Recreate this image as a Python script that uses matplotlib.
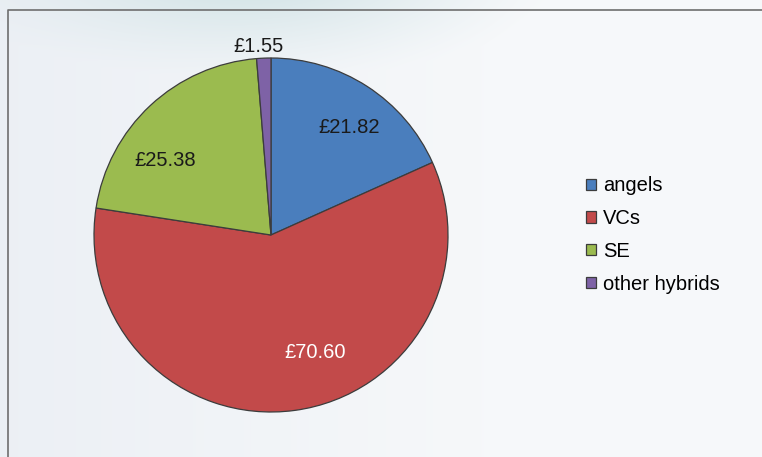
import numpy as np
import matplotlib
matplotlib.use("Agg")
import matplotlib.pyplot as plt
from matplotlib.lines import Line2D

# data (GBP)
names = ["angels", "VCs", "SE", "other hybrids"]
values = [21.82, 70.60, 25.38, 1.55]
labels = ["£21.82", "£70.60", "£25.38", "£1.55"]
colors = ["#4a7ebd", "#c24a4a", "#9bbb4f", "#7e62a6"]
label_colors = ["#1a1a1a", "white", "#1a1a1a", "#1a1a1a"]

plt.rcParams['font.family'] = ['Liberation Sans', 'DejaVu Sans']

W, H = 762, 457
fig = plt.figure(figsize=(W / 100, H / 100), dpi=100)

# soft background: pale blue-grey with a teal glow at top left
yy, xx = np.mgrid[0:H, 0:W]
base = np.array([0.968, 0.975, 0.982])
left = np.array([0.925, 0.940, 0.960])
teal = np.array([0.80, 0.88, 0.89])
t_left = np.clip(1 - xx / 520.0, 0, 1)[..., None]
d = np.sqrt(((xx - 250) / 320.0) ** 2 + ((yy + 30) / 110.0) ** 2)
t_teal = np.clip(1 - d, 0, 1)[..., None] ** 1.3
img = base * (1 - t_left) + left * t_left
img = img * (1 - t_teal) + teal * t_teal
fig.figimage((img * 255).astype(np.uint8), xo=0, yo=0, origin='upper', zorder=-10)

bg = fig.add_axes([0, 0, 1, 1])
bg.patch.set_alpha(0)
bg.set_xlim(0, W)
bg.set_ylim(H, 0)
bg.axis('off')
# plot-area frame: only left and top edges are inside the picture
bg.add_line(Line2D([7.5, 7.5, W - 0.5], [H - 0.5, 9.5, 9.5], color='#6e6e6e',
                   linewidth=1.2, solid_capstyle='butt', clip_on=False))

# pie
cx, cy, r = 271, 235, 177
ax = fig.add_axes([(cx - r) / W, (H - cy - r) / H, 2 * r / W, 2 * r / H])
wedges, _ = ax.pie(values, colors=colors, startangle=90, counterclock=False,
                   wedgeprops=dict(edgecolor='#3c3c3c', linewidth=0.9))
ax.set_xlim(-1, 1)
ax.set_ylim(-1, 1)
ax.set_aspect('equal')
ax.axis('off')

# label placement tweaks (radius, angle offset in degrees)
tweaks = [(0.75, -3), (0.71, 13), (0.73, 12), (1.07, 1.5)]
for w, lab, lc, (rad, off) in zip(wedges, labels, label_colors, tweaks):
    ang = np.deg2rad((w.theta1 + w.theta2) / 2 + off)
    ax.text(rad * np.cos(ang), rad * np.sin(ang), lab, color=lc, fontsize=14.5,
            ha='center', va='center', clip_on=False)

fig.legend(wedges, names, loc='center left', bbox_to_anchor=(568 / W, 1 - 235 / H),
           frameon=False, fontsize=14.5, handlelength=0.5, handleheight=0.5,
           handletextpad=0.35, labelspacing=0.68)

fig.savefig("out.png", dpi=100)
